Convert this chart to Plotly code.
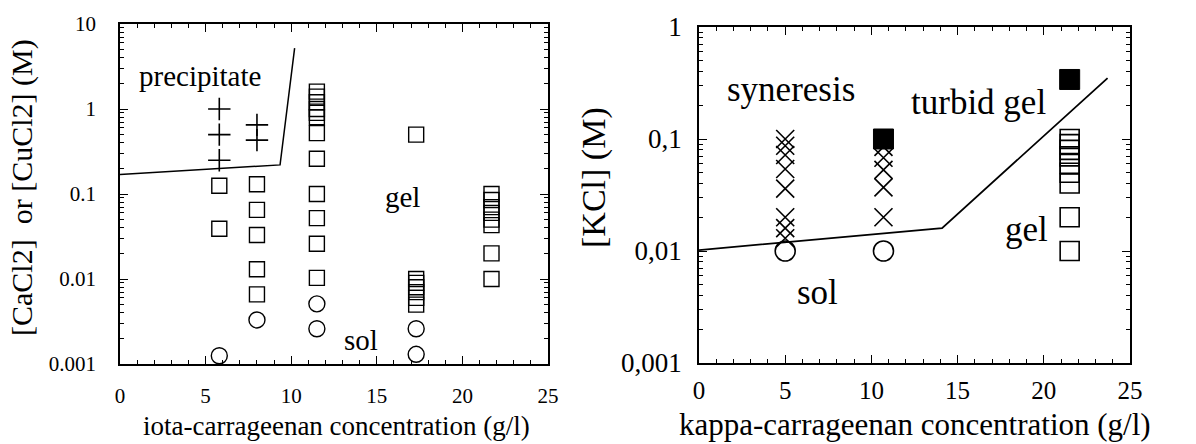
import plotly.graph_objects as go

# ---------------- iota-carrageenan (left panel) ----------------
iota_plus_x = [5.8, 5.8, 5.8, 8.0, 8.0]
iota_plus_y = [1.0, 0.5, 0.25, 0.65, 0.43]

iota_sq_x = ([5.8] * 2 + [8.0] * 5 + [11.5] * 12 + [17.3] * 7 + [21.7] * 8)
iota_sq_y = ([0.125, 0.039]
             + [0.13, 0.065, 0.033, 0.013, 0.0066]
             + [1.6, 1.4, 1.2, 1.0, 0.9, 0.8, 0.52, 0.26, 0.1, 0.052, 0.026, 0.0103]
             + [0.5, 0.01, 0.009, 0.008, 0.007, 0.006, 0.005]
             + [0.1, 0.085, 0.07, 0.06, 0.05, 0.043, 0.02, 0.01])

iota_circ_x = [5.8, 8.0, 11.5, 11.5, 17.3, 17.3]
iota_circ_y = [0.00125, 0.0033, 0.0051, 0.0026, 0.0026, 0.0013]

iota_line_x = [0, 9.35, 10.2]
iota_line_y = [0.17, 0.22, 5.2]

iota_ytickvals = [10, 1, 0.1, 0.01, 0.001]
iota_yticktext = ["10", "1", "0.1", "0.01", "0.001"]

# ---------------- kappa-carrageenan (right panel) ----------------
kappa_x_x = [5.0] * 8 + [10.7] * 5
kappa_x_y = ([0.1, 0.087, 0.072, 0.054, 0.036, 0.02, 0.016, 0.013]
             + [0.085, 0.068, 0.053, 0.037, 0.02])

kappa_fill_x = [10.7, 21.5]
kappa_fill_y = [0.1, 0.34]

kappa_sq_x = [21.5] * 9
kappa_sq_y = [0.1, 0.09, 0.08, 0.07, 0.06, 0.05, 0.04, 0.02, 0.01]

kappa_circ_x = [5.0, 10.7]
kappa_circ_y = [0.01, 0.01]

kappa_line_x = [0, 14.1, 23.7]
kappa_line_y = [0.0102, 0.016, 0.35]

kappa_ytickvals = [1, 0.1, 0.01, 0.001]
kappa_yticktext = ["1", "0,1", "0,01", "0,001"]

xtickvals = [0, 5, 10, 15, 20, 25]

SERIF = "Liberation Serif"
INK = "black"

fig = go.Figure()

# left panel traces
fig.add_trace(go.Scatter(x=iota_line_x, y=iota_line_y, mode="lines",
                         line=dict(color=INK, width=1.5), xaxis="x", yaxis="y"))
fig.add_trace(go.Scatter(x=iota_plus_x, y=iota_plus_y, mode="markers",
                         marker=dict(symbol="cross-thin-open", size=16, color=INK,
                                     line=dict(color=INK, width=1.6)),
                         xaxis="x", yaxis="y"))
fig.add_trace(go.Scatter(x=iota_sq_x, y=iota_sq_y, mode="markers",
                         marker=dict(symbol="square-open", size=15, color=INK,
                                     line=dict(color=INK, width=1.4)),
                         xaxis="x", yaxis="y"))
fig.add_trace(go.Scatter(x=iota_circ_x, y=iota_circ_y, mode="markers",
                         marker=dict(symbol="circle-open", size=16, color=INK,
                                     line=dict(color=INK, width=1.4)),
                         xaxis="x", yaxis="y"))

# right panel traces
fig.add_trace(go.Scatter(x=kappa_line_x, y=kappa_line_y, mode="lines",
                         line=dict(color=INK, width=1.8), xaxis="x2", yaxis="y2"))
fig.add_trace(go.Scatter(x=kappa_x_x, y=kappa_x_y, mode="markers",
                         marker=dict(symbol="x-thin-open", size=18, color=INK,
                                     line=dict(color=INK, width=1.6)),
                         xaxis="x2", yaxis="y2"))
fig.add_trace(go.Scatter(x=kappa_sq_x, y=kappa_sq_y, mode="markers",
                         marker=dict(symbol="square-open", size=19, color=INK,
                                     line=dict(color=INK, width=1.6)),
                         xaxis="x2", yaxis="y2"))
fig.add_trace(go.Scatter(x=kappa_circ_x, y=kappa_circ_y, mode="markers",
                         marker=dict(symbol="circle-open", size=20, color=INK,
                                     line=dict(color=INK, width=1.6)),
                         xaxis="x2", yaxis="y2"))
fig.add_trace(go.Scatter(x=kappa_fill_x, y=kappa_fill_y, mode="markers",
                         marker=dict(symbol="square", size=20, color=INK,
                                     line=dict(color=INK, width=1)),
                         xaxis="x2", yaxis="y2"))

W, H = 1196, 444


def px(xp):
    return xp / W


def py(yp):
    return 1 - yp / H


common_x = dict(range=[0, 25], tickvals=xtickvals, ticks="inside", ticklen=8,
                tickwidth=1.2, tickcolor=INK, mirror="ticks", showline=True,
                linecolor=INK, linewidth=1.5, showgrid=False, zeroline=False,
                automargin=False,
                minor=dict(dtick=1, ticks="inside", ticklen=4, tickcolor=INK,
                           showgrid=False))
common_y = dict(type="log", ticks="inside", ticklen=8, tickwidth=1.2,
                tickcolor=INK, mirror="ticks", showline=True, linecolor=INK,
                linewidth=1.5, showgrid=False, zeroline=False,
                automargin=False,
                minor=dict(dtick="D1", ticks="inside", ticklen=4,
                           tickcolor=INK, showgrid=False))

fig.update_layout(
    template="none",
    width=W, height=H, margin=dict(l=0, r=0, t=0, b=0, pad=0),
    paper_bgcolor="white", plot_bgcolor="white", showlegend=False,
    font=dict(family=SERIF, color=INK),
    xaxis=dict(domain=[px(120), px(548)], anchor="y",
               tickfont=dict(size=21, family=SERIF), ticklabelstandoff=12,
               **common_x),
    yaxis=dict(domain=[py(364), py(24)], anchor="x", range=[-3, 1],
               tickvals=iota_ytickvals, ticktext=iota_yticktext,
               tickfont=dict(size=21, family=SERIF), ticklabelstandoff=18,
               **common_y),
    xaxis2=dict(domain=[px(699), px(1130)], anchor="y2",
                tickfont=dict(size=25, family=SERIF), ticklabelstandoff=4,
                **common_x),
    yaxis2=dict(domain=[py(363), py(27)], anchor="x2", range=[-3, 0],
                tickvals=kappa_ytickvals, ticktext=kappa_yticktext,
                tickfont=dict(size=27, family=SERIF), ticklabelstandoff=10,
                **common_y),
)

annotations = [
    # region labels, left panel
    dict(text="precipitate", x=4.7, y=0.388, xref="x", yref="y", size=29),
    dict(text="gel", x=16.5, y=-1.035, xref="x", yref="y", size=29),
    dict(text="sol", x=14.1, y=-2.72, xref="x", yref="y", size=29),
    # region labels, right panel
    dict(text="syneresis", x=5.35, y=-0.56, xref="x2", yref="y2", size=35),
    dict(text="turbid gel", x=16.2, y=-0.67, xref="x2", yref="y2", size=35),
    dict(text="gel", x=19.0, y=-1.81, xref="x2", yref="y2", size=35),
    dict(text="sol", x=6.85, y=-2.37, xref="x2", yref="y2", size=35),
]
for a in annotations:
    fig.add_annotation(text=a["text"], x=a["x"], y=a["y"], xref=a["xref"],
                       yref=a["yref"], showarrow=False,
                       xanchor="center", yanchor="middle",
                       font=dict(family=SERIF, size=a["size"], color=INK))

# axis titles
titles = [
    dict(text="iota-carrageenan concentration (g/l)", x=336, y=426, angle=0, size=27),
    dict(text="kappa-carrageenan concentration (g/l)", x=915, y=424, angle=0, size=31),
    dict(text="[CaCl2]  or [CuCl2] (M)", x=22, y=188, angle=-90, size=30),
    dict(text="[KCl] (M)", x=594, y=178, angle=-90, size=34),
]
for t in titles:
    fig.add_annotation(text=t["text"], x=px(t["x"]), y=py(t["y"]),
                       xref="paper", yref="paper", showarrow=False,
                       xanchor="center", yanchor="middle", textangle=t["angle"],
                       font=dict(family=SERIF, size=t["size"], color=INK))

fig.write_html("out.html")
